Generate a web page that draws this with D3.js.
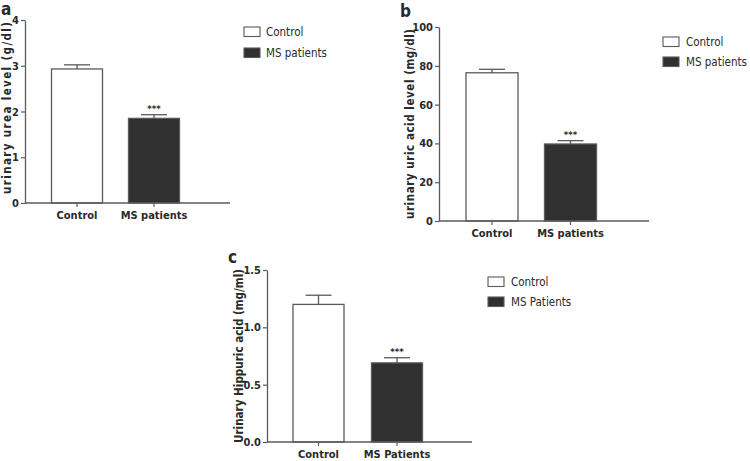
<!DOCTYPE html>
<html>
<head>
<meta charset="utf-8">
<script src="https://cdn.jsdelivr.net/npm/d3@7"></script>
<style>
  html, body { margin: 0; padding: 0; background: #fff; }
  svg { display: block; }
  text { font-family: "DejaVu Sans Condensed", "Liberation Sans Narrow", "Liberation Sans", sans-serif; font-stretch: condensed; fill: #2a2a2a; }
</style>
</head>
<body>
<svg id="chart" width="750" height="461"></svg>
<script>
// ---- data ----
const categoriesAB = ["Control", "MS patients"];
const categoriesC = ["Control", "MS Patients"];
const ureaMeans = [2.93, 1.85];
const ureaErrors = [0.09, 0.08];
const uricMeans = [76.4, 39.7];
const uricErrors = [1.8, 1.7];
const hippuricMeans = [1.2, 0.69];
const hippuricErrors = [0.08, 0.045];
const ureaTicks = [0, 1, 2, 3, 4];
const uricTicks = [0, 20, 40, 60, 80, 100];
const hippuricTicks = [0.0, 0.5, 1.0, 1.5];
const significance = ["", "***"];
const seriesNames = ["Control", "MS patients"];
const seriesNamesC = ["Control", "MS Patients"];

const svg = d3.select("#chart");
const barColors = ["#ffffff", "#303030"];
const axisColor = "#5a5a5a";
const labelFont = '"DejaVu Sans Condensed", "Liberation Sans Narrow", "Liberation Sans", sans-serif';

const panels = [
  { letter: "a", lx: 1, ly: 15, cats: categoriesAB, means: ureaMeans, errs: ureaErrors, ticks: ureaTicks, fmt: d3.format("d"),
    x0: 25, y0: 203, yTop: 20, max: 4, off: 52, step: 77, bw: 51, len: 205,
    title: "urinary urea level (g/dl)", tx: 11, ty: 108, tlen: 172,
    legend: seriesNames, legX: 244, legY: [27, 48], legTX: 266 },
  { letter: "b", lx: 400, ly: 17, cats: categoriesAB, means: uricMeans, errs: uricErrors, ticks: uricTicks, fmt: d3.format("d"),
    x0: 439, y0: 221, yTop: 27, max: 100, off: 53, step: 78.5, bw: 52, len: 210,
    title: "urinary uric acid level (mg/dl)", tx: 414, ty: 124, tlen: 190,
    legend: seriesNames, legX: 663, legY: [37, 57], legTX: 686 },
  { letter: "c", lx: 228, ly: 263, cats: categoriesC, means: hippuricMeans, errs: hippuricErrors, ticks: hippuricTicks, fmt: d3.format(".1f"),
    x0: 267, y0: 442, yTop: 270, max: 1.5, off: 51.5, step: 78.5, bw: 51, len: 205,
    title: "Urinary Hippuric acid (mg/ml)", tx: 243, ty: 356, tlen: 174,
    legend: seriesNamesC, legX: 488, legY: [277, 297], legTX: 511 }
];

panels.forEach(p => {
  const g = svg.append("g");
  const c1 = p.x0 + p.off, c2 = c1 + p.step;
  const pad = 1 - p.bw / p.step;
  const x = d3.scaleBand().domain(p.cats)
    .range([c1 - p.step / 2, c2 + p.step / 2])
    .paddingInner(pad).paddingOuter(pad / 2);
  const y = d3.scaleLinear().domain([0, p.max]).range([p.y0, p.yTop]);

  // bars
  g.selectAll("rect.bar").data(p.means).join("rect")
    .attr("class", "bar")
    .attr("x", (d, i) => x(p.cats[i]))
    .attr("y", d => y(d))
    .attr("width", x.bandwidth())
    .attr("height", d => y(0) - y(d))
    .attr("fill", (d, i) => barColors[i])
    .attr("stroke", axisColor)
    .attr("stroke-width", 1.3);

  // error bars
  p.means.forEach((m, i) => {
    const cx = x(p.cats[i]) + x.bandwidth() / 2;
    g.append("line").attr("x1", cx).attr("x2", cx)
      .attr("y1", y(m)).attr("y2", y(m + p.errs[i]))
      .attr("stroke", axisColor).attr("stroke-width", 1.3);
    g.append("line").attr("x1", cx - 13).attr("x2", cx + 13)
      .attr("y1", y(m + p.errs[i])).attr("y2", y(m + p.errs[i]))
      .attr("stroke", axisColor).attr("stroke-width", 1.3);
    if (significance[i]) {
      g.append("text").attr("x", cx).attr("y", y(m + p.errs[i]) - 3)
        .attr("text-anchor", "middle").attr("font-size", 9.5).attr("font-weight", "bold")
        .attr("fill", "#555")
        .text(significance[i]);
    }
  });

  // y axis
  const ya = g.append("g").attr("transform", `translate(${p.x0},0)`)
    .call(d3.axisLeft(y).tickValues(p.ticks).tickFormat(p.fmt).tickSize(4).tickSizeOuter(0));
  ya.select(".domain").attr("stroke", axisColor).attr("stroke-width", 1.3);
  ya.selectAll(".tick line").attr("stroke", axisColor).attr("stroke-width", 1.2);
  ya.selectAll(".tick text").attr("font-size", 11).attr("font-weight", "bold")
    .attr("font-family", labelFont).attr("fill", "#2a2a2a").attr("x", -6);

  // x axis
  const xa = g.append("g").attr("transform", `translate(0,${p.y0})`)
    .call(d3.axisBottom(x).tickSize(4).tickSizeOuter(0));
  xa.select(".domain").remove();
  xa.selectAll(".tick line").attr("stroke", axisColor).attr("stroke-width", 1.2);
  xa.selectAll(".tick text").attr("font-size", 11).attr("font-weight", "bold")
    .attr("font-family", labelFont).attr("fill", "#2a2a2a").attr("y", 8);
  g.append("line").attr("x1", p.x0).attr("x2", p.x0 + p.len)
    .attr("y1", p.y0).attr("y2", p.y0)
    .attr("stroke", axisColor).attr("stroke-width", 1.3);

  // y title
  g.append("text")
    .attr("transform", `translate(${p.tx},${p.ty}) rotate(-90)`)
    .attr("text-anchor", "middle")
    .attr("font-size", 11.5).attr("font-weight", "bold")
    .attr("textLength", p.tlen).attr("lengthAdjust", "spacing")
    .text(p.title);

  // panel letter
  g.append("text").attr("x", p.lx).attr("y", p.ly)
    .attr("font-size", 17).attr("font-weight", "bold")
    .attr("font-family", "Liberation Sans, Arial, sans-serif").style("font-stretch", "normal").attr("fill", "#111")
    .text(p.letter);

  // legend
  p.legend.forEach((name, i) => {
    g.append("rect").attr("x", p.legX).attr("y", p.legY[i])
      .attr("width", 16).attr("height", 9.5)
      .attr("fill", barColors[i]).attr("stroke", axisColor).attr("stroke-width", 1.1);
    g.append("text").attr("x", p.legTX).attr("y", p.legY[i] + 5)
      .attr("dominant-baseline", "middle").attr("font-size", 11.5)
      .attr("fill", "#333")
      .text(name);
  });
});
</script>
</body>
</html>
